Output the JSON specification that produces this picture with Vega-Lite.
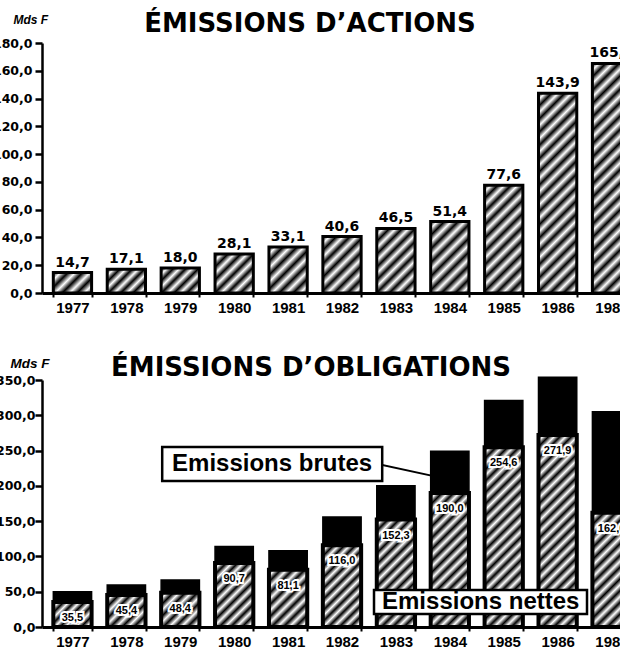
{
  "$schema": "https://vega.github.io/schema/vega-lite/v6.json",
  "background": "white",
  "padding": {"left": -8, "right": -22, "top": 11, "bottom": 0},
  "spacing": 40,
  "config": {
    "locale": {"number": {"decimal": ",", "thousands": " ", "grouping": [3], "currency": ["", " F"]}},
    "view": {"stroke": null},
    "axis": {"domainColor": "black", "tickColor": "black", "labelColor": "black", "titleColor": "black", "grid": false},
    "title": {"font": "DejaVu Sans", "fontSize": 26, "fontWeight": "bold", "color": "black", "anchor": "middle"}
  },
  "datasets": {
    "actions": [
      {"annee": "1977", "montant": 14.7},
      {"annee": "1978", "montant": 17.1},
      {"annee": "1979", "montant": 18.0},
      {"annee": "1980", "montant": 28.1},
      {"annee": "1981", "montant": 33.1},
      {"annee": "1982", "montant": 40.6},
      {"annee": "1983", "montant": 46.5},
      {"annee": "1984", "montant": 51.4},
      {"annee": "1985", "montant": 77.6},
      {"annee": "1986", "montant": 143.9},
      {"annee": "1987", "montant": 165.3}
    ],
    "obligations": [
      {"annee": "1977", "brutes": 50.0, "nettes": 35.5},
      {"annee": "1978", "brutes": 59.5, "nettes": 45.4},
      {"annee": "1979", "brutes": 66.5, "nettes": 48.4},
      {"annee": "1980", "brutes": 114.0, "nettes": 90.7},
      {"annee": "1981", "brutes": 108.0, "nettes": 81.1},
      {"annee": "1982", "brutes": 156.0, "nettes": 116.0},
      {"annee": "1983", "brutes": 200.0, "nettes": 152.3},
      {"annee": "1984", "brutes": 249.0, "nettes": 190.0},
      {"annee": "1985", "brutes": 321.0, "nettes": 254.6},
      {"annee": "1986", "brutes": 354.0, "nettes": 271.9},
      {"annee": "1987", "brutes": 305.0, "nettes": 162.0}
    ]
  },
  "vconcat": [
    {
      "title": {"text": "ÉMISSIONS D’ACTIONS", "dx": -32, "offset": -24},
      "width": 600,
      "height": 250,
      "data": {"name": "actions"},
      "encoding": {
        "x": {
          "field": "annee", "type": "nominal",
          "scale": {"paddingInner": 0.29, "paddingOuter": 0.21},
          "axis": {"title": null, "labelAngle": 0, "labelFont": "Liberation Sans", "labelFontSize": 15, "labelFontWeight": "bold", "labelPadding": 3, "tickBand": "extent", "tickSize": 4, "tickWidth": 2, "domainWidth": 3}
        },
        "y": {
          "field": "montant", "type": "quantitative",
          "scale": {"domain": [0, 180], "nice": false},
          "axis": {
            "title": "Mds F", "titleAngle": 0, "titleAlign": "left", "titleBaseline": "alphabetic", "titleX": -29, "titleY": -20,
            "titleFont": "Liberation Sans", "titleFontStyle": "italic", "titleFontWeight": "bold", "titleFontSize": 12,
            "values": [0, 20, 40, 60, 80, 100, 120, 140, 160, 180], "format": ".1f",
            "labelFont": "DejaVu Sans", "labelFontWeight": "bold", "labelFontSize": 12.5, "labelPadding": 3,
            "tickSize": 7, "tickWidth": 2.5, "domainWidth": 2.5
          }
        }
      },
      "layer": [
        {
          "mark": {"type": "bar", "stroke": "black", "strokeWidth": 3},
          "encoding": {
            "fill": {
              "condition": [
                {"test": "datum.annee == '1977'", "value": {"gradient": "linear", "x1": 0, "y1": 0, "x2": 1.1937, "y2": 0.6369, "stops": [{"offset":0,"color":"#000"},{"offset":0.125,"color":"#fff"},{"offset":0.25,"color":"#000"},{"offset":0.375,"color":"#fff"},{"offset":0.5,"color":"#000"},{"offset":0.625,"color":"#fff"},{"offset":0.75,"color":"#000"},{"offset":0.875,"color":"#fff"},{"offset":1,"color":"#000"}]}},
                {"test": "datum.annee == '1978'", "value": {"gradient": "linear", "x1": 0, "y1": 0, "x2": 1.170, "y2": 0.7261, "stops": [{"offset":0,"color":"#000"},{"offset":0.1,"color":"#fff"},{"offset":0.2,"color":"#000"},{"offset":0.3,"color":"#fff"},{"offset":0.4,"color":"#000"},{"offset":0.5,"color":"#fff"},{"offset":0.6,"color":"#000"},{"offset":0.7,"color":"#fff"},{"offset":0.8,"color":"#000"},{"offset":0.9,"color":"#fff"},{"offset":1,"color":"#000"}]}},
                {"test": "datum.annee == '1979'", "value": {"gradient": "linear", "x1": 0, "y1": 0, "x2": 1.1588, "y2": 0.757, "stops": [{"offset":0,"color":"#000"},{"offset":0.1,"color":"#fff"},{"offset":0.2,"color":"#000"},{"offset":0.3,"color":"#fff"},{"offset":0.4,"color":"#000"},{"offset":0.5,"color":"#fff"},{"offset":0.6,"color":"#000"},{"offset":0.7,"color":"#fff"},{"offset":0.8,"color":"#000"},{"offset":0.9,"color":"#fff"},{"offset":1,"color":"#000"}]}},
                {"test": "datum.annee == '1980'", "value": {"gradient": "linear", "x1": 0, "y1": 0, "x2": 0.9901, "y2": 1.0097, "stops": [{"offset":0,"color":"#000"},{"offset":0.0833,"color":"#fff"},{"offset":0.1667,"color":"#000"},{"offset":0.25,"color":"#fff"},{"offset":0.3333,"color":"#000"},{"offset":0.4167,"color":"#fff"},{"offset":0.5,"color":"#000"},{"offset":0.5833,"color":"#fff"},{"offset":0.6667,"color":"#000"},{"offset":0.75,"color":"#fff"},{"offset":0.8333,"color":"#000"},{"offset":0.9167,"color":"#fff"},{"offset":1,"color":"#000"}]}},
                {"test": "datum.annee == '1981'", "value": {"gradient": "linear", "x1": 0, "y1": 0, "x2": 0.9011, "y2": 1.0824, "stops": [{"offset":0,"color":"#000"},{"offset":0.0833,"color":"#fff"},{"offset":0.1667,"color":"#000"},{"offset":0.25,"color":"#fff"},{"offset":0.3333,"color":"#000"},{"offset":0.4167,"color":"#fff"},{"offset":0.5,"color":"#000"},{"offset":0.5833,"color":"#fff"},{"offset":0.6667,"color":"#000"},{"offset":0.75,"color":"#fff"},{"offset":0.8333,"color":"#000"},{"offset":0.9167,"color":"#fff"},{"offset":1,"color":"#000"}]}},
                {"test": "datum.annee == '1982'", "value": {"gradient": "linear", "x1": 0, "y1": 0, "x2": 0.78, "y2": 1.1493, "stops": [{"offset":0,"color":"#000"},{"offset":0.0714,"color":"#fff"},{"offset":0.1429,"color":"#000"},{"offset":0.2143,"color":"#fff"},{"offset":0.2857,"color":"#000"},{"offset":0.3571,"color":"#fff"},{"offset":0.4286,"color":"#000"},{"offset":0.5,"color":"#fff"},{"offset":0.5714,"color":"#000"},{"offset":0.6429,"color":"#fff"},{"offset":0.7143,"color":"#000"},{"offset":0.7857,"color":"#fff"},{"offset":0.8571,"color":"#000"},{"offset":0.9286,"color":"#fff"},{"offset":1,"color":"#000"}]}},
                {"test": "datum.annee == '1983'", "value": {"gradient": "linear", "x1": 0, "y1": 0, "x2": 0.6985, "y2": 1.1787, "stops": [{"offset":0,"color":"#000"},{"offset":0.0625,"color":"#fff"},{"offset":0.125,"color":"#000"},{"offset":0.1875,"color":"#fff"},{"offset":0.25,"color":"#000"},{"offset":0.3125,"color":"#fff"},{"offset":0.375,"color":"#000"},{"offset":0.4375,"color":"#fff"},{"offset":0.5,"color":"#000"},{"offset":0.5625,"color":"#fff"},{"offset":0.625,"color":"#000"},{"offset":0.6875,"color":"#fff"},{"offset":0.75,"color":"#000"},{"offset":0.8125,"color":"#fff"},{"offset":0.875,"color":"#000"},{"offset":0.9375,"color":"#fff"},{"offset":1,"color":"#000"}]}},
                {"test": "datum.annee == '1984'", "value": {"gradient": "linear", "x1": 0, "y1": 0, "x2": 0.6396, "y2": 1.1932, "stops": [{"offset":0,"color":"#000"},{"offset":0.0625,"color":"#fff"},{"offset":0.125,"color":"#000"},{"offset":0.1875,"color":"#fff"},{"offset":0.25,"color":"#000"},{"offset":0.3125,"color":"#fff"},{"offset":0.375,"color":"#000"},{"offset":0.4375,"color":"#fff"},{"offset":0.5,"color":"#000"},{"offset":0.5625,"color":"#fff"},{"offset":0.625,"color":"#000"},{"offset":0.6875,"color":"#fff"},{"offset":0.75,"color":"#000"},{"offset":0.8125,"color":"#fff"},{"offset":0.875,"color":"#000"},{"offset":0.9375,"color":"#fff"},{"offset":1,"color":"#000"}]}},
                {"test": "datum.annee == '1985'", "value": {"gradient": "linear", "x1": 0, "y1": 0, "x2": 0.4273, "y2": 1.2034, "stops": [{"offset":0,"color":"#000"},{"offset":0.0455,"color":"#fff"},{"offset":0.0909,"color":"#000"},{"offset":0.1364,"color":"#fff"},{"offset":0.1818,"color":"#000"},{"offset":0.2273,"color":"#fff"},{"offset":0.2727,"color":"#000"},{"offset":0.3182,"color":"#fff"},{"offset":0.3636,"color":"#000"},{"offset":0.4091,"color":"#fff"},{"offset":0.4545,"color":"#000"},{"offset":0.5,"color":"#fff"},{"offset":0.5455,"color":"#000"},{"offset":0.5909,"color":"#fff"},{"offset":0.6364,"color":"#000"},{"offset":0.6818,"color":"#fff"},{"offset":0.7273,"color":"#000"},{"offset":0.7727,"color":"#fff"},{"offset":0.8182,"color":"#000"},{"offset":0.8636,"color":"#fff"},{"offset":0.9091,"color":"#000"},{"offset":0.9545,"color":"#fff"},{"offset":1,"color":"#000"}]}},
                {"test": "datum.annee == '1986'", "value": {"gradient": "linear", "x1": 0, "y1": 0, "x2": 0.2201, "y2": 1.1493, "stops": [{"offset":0,"color":"#000"},{"offset":0.0278,"color":"#fff"},{"offset":0.0556,"color":"#000"},{"offset":0.0833,"color":"#fff"},{"offset":0.1111,"color":"#000"},{"offset":0.1389,"color":"#fff"},{"offset":0.1667,"color":"#000"},{"offset":0.1944,"color":"#fff"},{"offset":0.2222,"color":"#000"},{"offset":0.25,"color":"#fff"},{"offset":0.2778,"color":"#000"},{"offset":0.3056,"color":"#fff"},{"offset":0.3333,"color":"#000"},{"offset":0.3611,"color":"#fff"},{"offset":0.3889,"color":"#000"},{"offset":0.4167,"color":"#fff"},{"offset":0.4444,"color":"#000"},{"offset":0.4722,"color":"#fff"},{"offset":0.5,"color":"#000"},{"offset":0.5278,"color":"#fff"},{"offset":0.5556,"color":"#000"},{"offset":0.5833,"color":"#fff"},{"offset":0.6111,"color":"#000"},{"offset":0.6389,"color":"#fff"},{"offset":0.6667,"color":"#000"},{"offset":0.6944,"color":"#fff"},{"offset":0.7222,"color":"#000"},{"offset":0.75,"color":"#fff"},{"offset":0.7778,"color":"#000"},{"offset":0.8056,"color":"#fff"},{"offset":0.8333,"color":"#000"},{"offset":0.8611,"color":"#fff"},{"offset":0.8889,"color":"#000"},{"offset":0.9167,"color":"#fff"},{"offset":0.9444,"color":"#000"},{"offset":0.9722,"color":"#fff"},{"offset":1,"color":"#000"}]}},
                {"test": "datum.annee == '1987'", "value": {"gradient": "linear", "x1": 0, "y1": 0, "x2": 0.1892, "y2": 1.1352, "stops": [{"offset":0,"color":"#000"},{"offset":0.025,"color":"#fff"},{"offset":0.05,"color":"#000"},{"offset":0.075,"color":"#fff"},{"offset":0.1,"color":"#000"},{"offset":0.125,"color":"#fff"},{"offset":0.15,"color":"#000"},{"offset":0.175,"color":"#fff"},{"offset":0.2,"color":"#000"},{"offset":0.225,"color":"#fff"},{"offset":0.25,"color":"#000"},{"offset":0.275,"color":"#fff"},{"offset":0.3,"color":"#000"},{"offset":0.325,"color":"#fff"},{"offset":0.35,"color":"#000"},{"offset":0.375,"color":"#fff"},{"offset":0.4,"color":"#000"},{"offset":0.425,"color":"#fff"},{"offset":0.45,"color":"#000"},{"offset":0.475,"color":"#fff"},{"offset":0.5,"color":"#000"},{"offset":0.525,"color":"#fff"},{"offset":0.55,"color":"#000"},{"offset":0.575,"color":"#fff"},{"offset":0.6,"color":"#000"},{"offset":0.625,"color":"#fff"},{"offset":0.65,"color":"#000"},{"offset":0.675,"color":"#fff"},{"offset":0.7,"color":"#000"},{"offset":0.725,"color":"#fff"},{"offset":0.75,"color":"#000"},{"offset":0.775,"color":"#fff"},{"offset":0.8,"color":"#000"},{"offset":0.825,"color":"#fff"},{"offset":0.85,"color":"#000"},{"offset":0.875,"color":"#fff"},{"offset":0.9,"color":"#000"},{"offset":0.925,"color":"#fff"},{"offset":0.95,"color":"#000"},{"offset":0.975,"color":"#fff"},{"offset":1,"color":"#000"}]}}
              ],
              "value": "#828282"
            }
          }
        },
        {
          "mark": {"type": "text", "baseline": "bottom", "dy": -3, "font": "DejaVu Sans", "fontWeight": "bold", "fontSize": 14, "color": "black"},
          "encoding": {"text": {"field": "montant", "type": "quantitative", "format": ".1f"}}
        }
      ]
    },
    {
      "title": {"text": "ÉMISSIONS D’OBLIGATIONS", "dx": -31, "offset": -25},
      "width": 600,
      "height": 247,
      "data": {"name": "obligations"},
      "encoding": {
        "x": {
          "field": "annee", "type": "nominal",
          "scale": {"paddingInner": 0.29, "paddingOuter": 0.21},
          "axis": {"title": null, "labelAngle": 0, "labelFont": "Liberation Sans", "labelFontSize": 15, "labelFontWeight": "bold", "labelPadding": 3, "tickBand": "extent", "tickSize": 4, "tickWidth": 2, "domainWidth": 3}
        }
      },
      "layer": [
        {
          "mark": {"type": "bar", "fill": "black", "stroke": "black", "strokeWidth": 1.5},
          "encoding": {
            "y": {
              "field": "brutes", "type": "quantitative",
              "scale": {"domain": [0, 350], "nice": false},
              "axis": {"title": "Mds F", "titleAngle": 0, "titleAlign": "left", "titleBaseline": "alphabetic", "titleX": -32, "titleY": -13, "titleFont": "Liberation Sans", "titleFontStyle": "italic", "titleFontWeight": "bold", "titleFontSize": 13.5, "values": [0, 50, 100, 150, 200, 250, 300, 350], "format": ".1f", "labelOverlap": false, "labelFont": "DejaVu Sans", "labelFontWeight": "bold", "labelFontSize": 12.5, "labelPadding": 0, "tickSize": 7, "tickWidth": 2.5, "domainWidth": 2.5}
            }
          }
        },
        {
          "data": {"values": [{}]},
          "mark": {"type": "rule", "strokeWidth": 2, "color": "black"},
          "encoding": {
            "x": {"datum": "1982"},
            "x2": {"datum": "1984"},
            "y": {"datum": 241.9, "type": "quantitative", "axis": {"title": "Mds F", "titleAngle": 0, "titleAlign": "left", "titleBaseline": "alphabetic", "titleX": -32, "titleY": -13, "titleFont": "Liberation Sans", "titleFontStyle": "italic", "titleFontWeight": "bold", "titleFontSize": 13.5, "values": [0, 50, 100, 150, 200, 250, 300, 350], "format": ".1f", "labelOverlap": false, "labelFont": "DejaVu Sans", "labelFontWeight": "bold", "labelFontSize": 12.5, "labelPadding": 0, "tickSize": 7, "tickWidth": 2.5, "domainWidth": 2.5}},
            "y2": {"datum": 208.8}
          }
        },
        {
          "mark": {"type": "bar", "stroke": "black", "strokeWidth": 4},
          "encoding": {
            "y": {"field": "nettes", "type": "quantitative", "axis": {"title": "Mds F", "titleAngle": 0, "titleAlign": "left", "titleBaseline": "alphabetic", "titleX": -32, "titleY": -13, "titleFont": "Liberation Sans", "titleFontStyle": "italic", "titleFontWeight": "bold", "titleFontSize": 13.5, "values": [0, 50, 100, 150, 200, 250, 300, 350], "format": ".1f", "labelOverlap": false, "labelFont": "DejaVu Sans", "labelFontWeight": "bold", "labelFontSize": 12.5, "labelPadding": 0, "tickSize": 7, "tickWidth": 2.5, "domainWidth": 2.5}},
            "fill": {
              "condition": [
                {"test": "datum.annee == '1977'", "value": {"gradient": "linear", "x1": 0, "y1": 0, "x2": 1.1583, "y2": 0.7582, "stops": [{"offset":0,"color":"#000"},{"offset":0.0833,"color":"#fff"},{"offset":0.1667,"color":"#000"},{"offset":0.25,"color":"#fff"},{"offset":0.3333,"color":"#000"},{"offset":0.4167,"color":"#fff"},{"offset":0.5,"color":"#000"},{"offset":0.5833,"color":"#fff"},{"offset":0.6667,"color":"#000"},{"offset":0.75,"color":"#fff"},{"offset":0.8333,"color":"#000"},{"offset":0.9167,"color":"#fff"},{"offset":1,"color":"#000"}]}},
                {"test": "datum.annee == '1978'", "value": {"gradient": "linear", "x1": 0, "y1": 0, "x2": 1.0801, "y2": 0.9043, "stops": [{"offset":0,"color":"#000"},{"offset":0.0833,"color":"#fff"},{"offset":0.1667,"color":"#000"},{"offset":0.25,"color":"#fff"},{"offset":0.3333,"color":"#000"},{"offset":0.4167,"color":"#fff"},{"offset":0.5,"color":"#000"},{"offset":0.5833,"color":"#fff"},{"offset":0.6667,"color":"#000"},{"offset":0.75,"color":"#fff"},{"offset":0.8333,"color":"#000"},{"offset":0.9167,"color":"#fff"},{"offset":1,"color":"#000"}]}},
                {"test": "datum.annee == '1979'", "value": {"gradient": "linear", "x1": 0, "y1": 0, "x2": 1.0534, "y2": 0.9402, "stops": [{"offset":0,"color":"#000"},{"offset":0.0833,"color":"#fff"},{"offset":0.1667,"color":"#000"},{"offset":0.25,"color":"#fff"},{"offset":0.3333,"color":"#000"},{"offset":0.4167,"color":"#fff"},{"offset":0.5,"color":"#000"},{"offset":0.5833,"color":"#fff"},{"offset":0.6667,"color":"#000"},{"offset":0.75,"color":"#fff"},{"offset":0.8333,"color":"#000"},{"offset":0.9167,"color":"#fff"},{"offset":1,"color":"#000"}]}},
                {"test": "datum.annee == '1980'", "value": {"gradient": "linear", "x1": 0, "y1": 0, "x2": 0.7038, "y2": 1.1771, "stops": [{"offset":0,"color":"#000"},{"offset":0.0556,"color":"#fff"},{"offset":0.1111,"color":"#000"},{"offset":0.1667,"color":"#fff"},{"offset":0.2222,"color":"#000"},{"offset":0.2778,"color":"#fff"},{"offset":0.3333,"color":"#000"},{"offset":0.3889,"color":"#fff"},{"offset":0.4444,"color":"#000"},{"offset":0.5,"color":"#fff"},{"offset":0.5556,"color":"#000"},{"offset":0.6111,"color":"#fff"},{"offset":0.6667,"color":"#000"},{"offset":0.7222,"color":"#fff"},{"offset":0.7778,"color":"#000"},{"offset":0.8333,"color":"#fff"},{"offset":0.8889,"color":"#000"},{"offset":0.9444,"color":"#fff"},{"offset":1,"color":"#000"}]}},
                {"test": "datum.annee == '1981'", "value": {"gradient": "linear", "x1": 0, "y1": 0, "x2": 0.7711, "y2": 1.1531, "stops": [{"offset":0,"color":"#000"},{"offset":0.0625,"color":"#fff"},{"offset":0.125,"color":"#000"},{"offset":0.1875,"color":"#fff"},{"offset":0.25,"color":"#000"},{"offset":0.3125,"color":"#fff"},{"offset":0.375,"color":"#000"},{"offset":0.4375,"color":"#fff"},{"offset":0.5,"color":"#000"},{"offset":0.5625,"color":"#fff"},{"offset":0.625,"color":"#000"},{"offset":0.6875,"color":"#fff"},{"offset":0.75,"color":"#000"},{"offset":0.8125,"color":"#fff"},{"offset":0.875,"color":"#000"},{"offset":0.9375,"color":"#fff"},{"offset":1,"color":"#000"}]}},
                {"test": "datum.annee == '1982'", "value": {"gradient": "linear", "x1": 0, "y1": 0, "x2": 0.563, "y2": 1.2043, "stops": [{"offset":0,"color":"#000"},{"offset":0.0455,"color":"#fff"},{"offset":0.0909,"color":"#000"},{"offset":0.1364,"color":"#fff"},{"offset":0.1818,"color":"#000"},{"offset":0.2273,"color":"#fff"},{"offset":0.2727,"color":"#000"},{"offset":0.3182,"color":"#fff"},{"offset":0.3636,"color":"#000"},{"offset":0.4091,"color":"#fff"},{"offset":0.4545,"color":"#000"},{"offset":0.5,"color":"#fff"},{"offset":0.5455,"color":"#000"},{"offset":0.5909,"color":"#fff"},{"offset":0.6364,"color":"#000"},{"offset":0.6818,"color":"#fff"},{"offset":0.7273,"color":"#000"},{"offset":0.7727,"color":"#fff"},{"offset":0.8182,"color":"#000"},{"offset":0.8636,"color":"#fff"},{"offset":0.9091,"color":"#000"},{"offset":0.9545,"color":"#fff"},{"offset":1,"color":"#000"}]}},
                {"test": "datum.annee == '1983'", "value": {"gradient": "linear", "x1": 0, "y1": 0, "x2": 0.4285, "y2": 1.2035, "stops": [{"offset":0,"color":"#000"},{"offset":0.0385,"color":"#fff"},{"offset":0.0769,"color":"#000"},{"offset":0.1154,"color":"#fff"},{"offset":0.1538,"color":"#000"},{"offset":0.1923,"color":"#fff"},{"offset":0.2308,"color":"#000"},{"offset":0.2692,"color":"#fff"},{"offset":0.3077,"color":"#000"},{"offset":0.3462,"color":"#fff"},{"offset":0.3846,"color":"#000"},{"offset":0.4231,"color":"#fff"},{"offset":0.4615,"color":"#000"},{"offset":0.5,"color":"#fff"},{"offset":0.5385,"color":"#000"},{"offset":0.5769,"color":"#fff"},{"offset":0.6154,"color":"#000"},{"offset":0.6538,"color":"#fff"},{"offset":0.6923,"color":"#000"},{"offset":0.7308,"color":"#fff"},{"offset":0.7692,"color":"#000"},{"offset":0.8077,"color":"#fff"},{"offset":0.8462,"color":"#000"},{"offset":0.8846,"color":"#fff"},{"offset":0.9231,"color":"#000"},{"offset":0.9615,"color":"#fff"},{"offset":1,"color":"#000"}]}},
                {"test": "datum.annee == '1984'", "value": {"gradient": "linear", "x1": 0, "y1": 0, "x2": 0.3393, "y2": 1.1886, "stops": [{"offset":0,"color":"#000"},{"offset":0.0333,"color":"#fff"},{"offset":0.0667,"color":"#000"},{"offset":0.1,"color":"#fff"},{"offset":0.1333,"color":"#000"},{"offset":0.1667,"color":"#fff"},{"offset":0.2,"color":"#000"},{"offset":0.2333,"color":"#fff"},{"offset":0.2667,"color":"#000"},{"offset":0.3,"color":"#fff"},{"offset":0.3333,"color":"#000"},{"offset":0.3667,"color":"#fff"},{"offset":0.4,"color":"#000"},{"offset":0.4333,"color":"#fff"},{"offset":0.4667,"color":"#000"},{"offset":0.5,"color":"#fff"},{"offset":0.5333,"color":"#000"},{"offset":0.5667,"color":"#fff"},{"offset":0.6,"color":"#000"},{"offset":0.6333,"color":"#fff"},{"offset":0.6667,"color":"#000"},{"offset":0.7,"color":"#fff"},{"offset":0.7333,"color":"#000"},{"offset":0.7667,"color":"#fff"},{"offset":0.8,"color":"#000"},{"offset":0.8333,"color":"#fff"},{"offset":0.8667,"color":"#000"},{"offset":0.9,"color":"#fff"},{"offset":0.9333,"color":"#000"},{"offset":0.9667,"color":"#fff"},{"offset":1,"color":"#000"}]}},
                {"test": "datum.annee == '1985'", "value": {"gradient": "linear", "x1": 0, "y1": 0, "x2": 0.2472, "y2": 1.1604, "stops": [{"offset":0,"color":"#000"},{"offset":0.0263,"color":"#fff"},{"offset":0.0526,"color":"#000"},{"offset":0.0789,"color":"#fff"},{"offset":0.1053,"color":"#000"},{"offset":0.1316,"color":"#fff"},{"offset":0.1579,"color":"#000"},{"offset":0.1842,"color":"#fff"},{"offset":0.2105,"color":"#000"},{"offset":0.2368,"color":"#fff"},{"offset":0.2632,"color":"#000"},{"offset":0.2895,"color":"#fff"},{"offset":0.3158,"color":"#000"},{"offset":0.3421,"color":"#fff"},{"offset":0.3684,"color":"#000"},{"offset":0.3947,"color":"#fff"},{"offset":0.4211,"color":"#000"},{"offset":0.4474,"color":"#fff"},{"offset":0.4737,"color":"#000"},{"offset":0.5,"color":"#fff"},{"offset":0.5263,"color":"#000"},{"offset":0.5526,"color":"#fff"},{"offset":0.5789,"color":"#000"},{"offset":0.6053,"color":"#fff"},{"offset":0.6316,"color":"#000"},{"offset":0.6579,"color":"#fff"},{"offset":0.6842,"color":"#000"},{"offset":0.7105,"color":"#fff"},{"offset":0.7368,"color":"#000"},{"offset":0.7632,"color":"#fff"},{"offset":0.7895,"color":"#000"},{"offset":0.8158,"color":"#fff"},{"offset":0.8421,"color":"#000"},{"offset":0.8684,"color":"#fff"},{"offset":0.8947,"color":"#000"},{"offset":0.9211,"color":"#fff"},{"offset":0.9474,"color":"#000"},{"offset":0.9737,"color":"#fff"},{"offset":1,"color":"#000"}]}},
                {"test": "datum.annee == '1986'", "value": {"gradient": "linear", "x1": 0, "y1": 0, "x2": 0.2301, "y2": 1.1536, "stops": [{"offset":0,"color":"#000"},{"offset":0.025,"color":"#fff"},{"offset":0.05,"color":"#000"},{"offset":0.075,"color":"#fff"},{"offset":0.1,"color":"#000"},{"offset":0.125,"color":"#fff"},{"offset":0.15,"color":"#000"},{"offset":0.175,"color":"#fff"},{"offset":0.2,"color":"#000"},{"offset":0.225,"color":"#fff"},{"offset":0.25,"color":"#000"},{"offset":0.275,"color":"#fff"},{"offset":0.3,"color":"#000"},{"offset":0.325,"color":"#fff"},{"offset":0.35,"color":"#000"},{"offset":0.375,"color":"#fff"},{"offset":0.4,"color":"#000"},{"offset":0.425,"color":"#fff"},{"offset":0.45,"color":"#000"},{"offset":0.475,"color":"#fff"},{"offset":0.5,"color":"#000"},{"offset":0.525,"color":"#fff"},{"offset":0.55,"color":"#000"},{"offset":0.575,"color":"#fff"},{"offset":0.6,"color":"#000"},{"offset":0.625,"color":"#fff"},{"offset":0.65,"color":"#000"},{"offset":0.675,"color":"#fff"},{"offset":0.7,"color":"#000"},{"offset":0.725,"color":"#fff"},{"offset":0.75,"color":"#000"},{"offset":0.775,"color":"#fff"},{"offset":0.8,"color":"#000"},{"offset":0.825,"color":"#fff"},{"offset":0.85,"color":"#000"},{"offset":0.875,"color":"#fff"},{"offset":0.9,"color":"#000"},{"offset":0.925,"color":"#fff"},{"offset":0.95,"color":"#000"},{"offset":0.975,"color":"#fff"},{"offset":1,"color":"#000"}]}},
                {"test": "datum.annee == '1987'", "value": {"gradient": "linear", "x1": 0, "y1": 0, "x2": 0.4018, "y2": 1.2003, "stops": [{"offset":0,"color":"#000"},{"offset":0.0385,"color":"#fff"},{"offset":0.0769,"color":"#000"},{"offset":0.1154,"color":"#fff"},{"offset":0.1538,"color":"#000"},{"offset":0.1923,"color":"#fff"},{"offset":0.2308,"color":"#000"},{"offset":0.2692,"color":"#fff"},{"offset":0.3077,"color":"#000"},{"offset":0.3462,"color":"#fff"},{"offset":0.3846,"color":"#000"},{"offset":0.4231,"color":"#fff"},{"offset":0.4615,"color":"#000"},{"offset":0.5,"color":"#fff"},{"offset":0.5385,"color":"#000"},{"offset":0.5769,"color":"#fff"},{"offset":0.6154,"color":"#000"},{"offset":0.6538,"color":"#fff"},{"offset":0.6923,"color":"#000"},{"offset":0.7308,"color":"#fff"},{"offset":0.7692,"color":"#000"},{"offset":0.8077,"color":"#fff"},{"offset":0.8462,"color":"#000"},{"offset":0.8846,"color":"#fff"},{"offset":0.9231,"color":"#000"},{"offset":0.9615,"color":"#fff"},{"offset":1,"color":"#000"}]}}
              ],
              "value": "#6e6e6e"
            }
          }
        },
        {
          "mark": {"type": "text", "baseline": "top", "dy": 10, "font": "Liberation Sans", "fontWeight": "bold", "fontSize": 11, "fill": "white", "stroke": "white", "strokeWidth": 4},
          "encoding": {
            "y": {"field": "nettes", "type": "quantitative", "axis": {"title": "Mds F", "titleAngle": 0, "titleAlign": "left", "titleBaseline": "alphabetic", "titleX": -32, "titleY": -13, "titleFont": "Liberation Sans", "titleFontStyle": "italic", "titleFontWeight": "bold", "titleFontSize": 13.5, "values": [0, 50, 100, 150, 200, 250, 300, 350], "format": ".1f", "labelOverlap": false, "labelFont": "DejaVu Sans", "labelFontWeight": "bold", "labelFontSize": 12.5, "labelPadding": 0, "tickSize": 7, "tickWidth": 2.5, "domainWidth": 2.5}},
            "text": {"field": "nettes", "type": "quantitative", "format": ".1f"}
          }
        },
        {
          "mark": {"type": "text", "baseline": "top", "dy": 10, "font": "Liberation Sans", "fontWeight": "bold", "fontSize": 11, "color": "black"},
          "encoding": {
            "y": {"field": "nettes", "type": "quantitative", "axis": {"title": "Mds F", "titleAngle": 0, "titleAlign": "left", "titleBaseline": "alphabetic", "titleX": -32, "titleY": -13, "titleFont": "Liberation Sans", "titleFontStyle": "italic", "titleFontWeight": "bold", "titleFontSize": 13.5, "values": [0, 50, 100, 150, 200, 250, 300, 350], "format": ".1f", "labelOverlap": false, "labelFont": "DejaVu Sans", "labelFontWeight": "bold", "labelFontSize": 12.5, "labelPadding": 0, "tickSize": 7, "tickWidth": 2.5, "domainWidth": 2.5}},
            "text": {"field": "nettes", "type": "quantitative", "format": ".1f"}
          }
        },
        {
          "data": {"values": [{}]},
          "mark": {"type": "point", "shape": "M-1.1445,-0.1545H0.8555V0.1545H-1.1445Z", "size": 48400, "filled": true, "fill": "white", "stroke": "black", "strokeWidth": 2.5, "opacity": 1},
          "encoding": {"x": {"datum": "1981"}, "y": {"datum": 231, "type": "quantitative", "axis": {"title": "Mds F", "titleAngle": 0, "titleAlign": "left", "titleBaseline": "alphabetic", "titleX": -32, "titleY": -13, "titleFont": "Liberation Sans", "titleFontStyle": "italic", "titleFontWeight": "bold", "titleFontSize": 13.5, "values": [0, 50, 100, 150, 200, 250, 300, 350], "format": ".1f", "labelOverlap": false, "labelFont": "DejaVu Sans", "labelFontWeight": "bold", "labelFontSize": 12.5, "labelPadding": 0, "tickSize": 7, "tickWidth": 2.5, "domainWidth": 2.5}}}
        },
        {
          "data": {"values": [{}]},
          "mark": {"type": "text", "text": "Emissions brutes", "dx": -16, "baseline": "middle", "font": "Liberation Sans", "fontWeight": "bold", "fontSize": 24, "color": "black"},
          "encoding": {"x": {"datum": "1981"}, "y": {"datum": 231, "type": "quantitative", "axis": {"title": "Mds F", "titleAngle": 0, "titleAlign": "left", "titleBaseline": "alphabetic", "titleX": -32, "titleY": -13, "titleFont": "Liberation Sans", "titleFontStyle": "italic", "titleFontWeight": "bold", "titleFontSize": 13.5, "values": [0, 50, 100, 150, 200, 250, 300, 350], "format": ".1f", "labelOverlap": false, "labelFont": "DejaVu Sans", "labelFontWeight": "bold", "labelFontSize": 12.5, "labelPadding": 0, "tickSize": 7, "tickWidth": 2.5, "domainWidth": 2.5}}}
        },
        {
          "data": {"values": [{}]},
          "mark": {"type": "point", "shape": "M-1.218,-0.1127H0.782V0.1127H-1.218Z", "size": 45369, "filled": true, "fill": "white", "stroke": "black", "strokeWidth": 2.5, "opacity": 1},
          "encoding": {"x": {"datum": "1985"}, "y": {"datum": 35.4, "type": "quantitative", "axis": {"title": "Mds F", "titleAngle": 0, "titleAlign": "left", "titleBaseline": "alphabetic", "titleX": -32, "titleY": -13, "titleFont": "Liberation Sans", "titleFontStyle": "italic", "titleFontWeight": "bold", "titleFontSize": 13.5, "values": [0, 50, 100, 150, 200, 250, 300, 350], "format": ".1f", "labelOverlap": false, "labelFont": "DejaVu Sans", "labelFontWeight": "bold", "labelFontSize": 12.5, "labelPadding": 0, "tickSize": 7, "tickWidth": 2.5, "domainWidth": 2.5}}}
        },
        {
          "data": {"values": [{}]},
          "mark": {"type": "text", "text": "Emissions nettes", "dx": -23, "baseline": "middle", "font": "Liberation Sans", "fontWeight": "bold", "fontSize": 24, "color": "black"},
          "encoding": {"x": {"datum": "1985"}, "y": {"datum": 35.4, "type": "quantitative", "axis": {"title": "Mds F", "titleAngle": 0, "titleAlign": "left", "titleBaseline": "alphabetic", "titleX": -32, "titleY": -13, "titleFont": "Liberation Sans", "titleFontStyle": "italic", "titleFontWeight": "bold", "titleFontSize": 13.5, "values": [0, 50, 100, 150, 200, 250, 300, 350], "format": ".1f", "labelOverlap": false, "labelFont": "DejaVu Sans", "labelFontWeight": "bold", "labelFontSize": 12.5, "labelPadding": 0, "tickSize": 7, "tickWidth": 2.5, "domainWidth": 2.5}}}
        }
      ]
    }
  ]
}
